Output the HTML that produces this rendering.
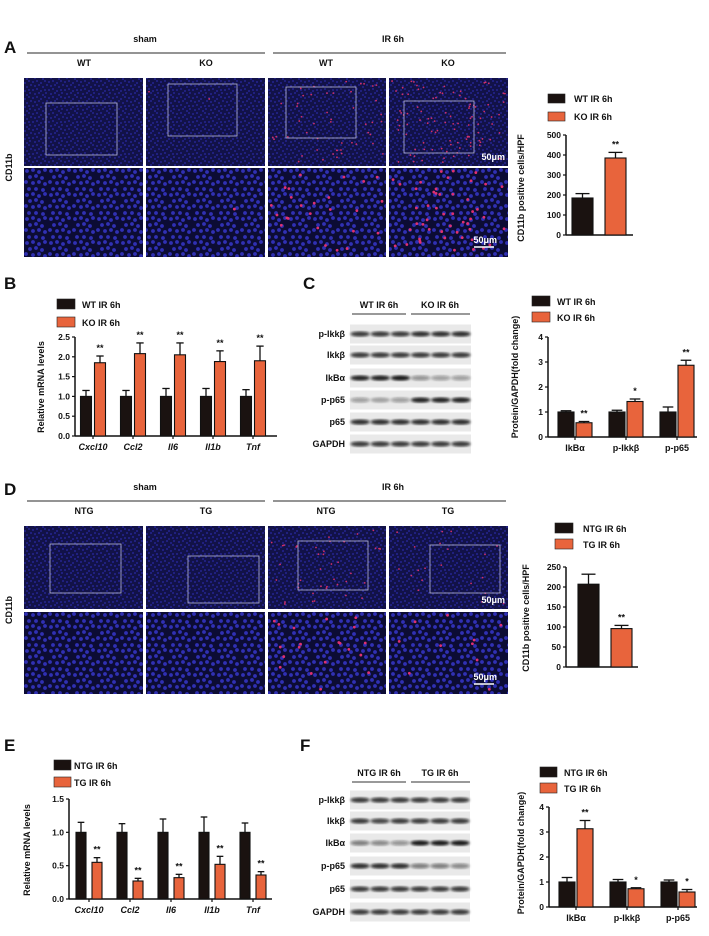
<!DOCTYPE html>
<html><head><meta charset="utf-8"><style>
html,body{margin:0;padding:0;background:#fff;}
svg{display:block;font-family:"Liberation Sans",sans-serif;}
text{font-weight:bold;fill:#111;}
</style></head><body>
<svg id="fig" width="709" height="936" viewBox="0 0 709 936" xmlns="http://www.w3.org/2000/svg">
<defs>
<pattern id="pTop" width="16" height="16" patternUnits="userSpaceOnUse">
<rect width="16" height="16" fill="#121248"/>
<g fill="#2a2aa4"><circle cx="1" cy="2" r="0.9"/><circle cx="5" cy="1" r="0.9"/><circle cx="9" cy="3" r="0.9"/><circle cx="13" cy="1" r="0.9"/><circle cx="3" cy="6" r="0.9"/><circle cx="7" cy="5" r="0.9"/><circle cx="11" cy="7" r="0.9"/><circle cx="15" cy="5" r="0.9"/><circle cx="1" cy="10" r="0.9"/><circle cx="5" cy="9" r="0.9"/><circle cx="9" cy="11" r="0.9"/><circle cx="13" cy="10" r="0.9"/><circle cx="3" cy="14" r="0.9"/><circle cx="7" cy="13" r="0.9"/><circle cx="11" cy="15" r="0.9"/><circle cx="14" cy="13" r="0.9"/></g>
</pattern>
<pattern id="pBot" width="24" height="24" patternUnits="userSpaceOnUse">
<rect width="24" height="24" fill="#0c0c34"/>
<g fill="#3030b4"><circle cx="3" cy="3" r="1.9"/><circle cx="9" cy="2" r="1.9"/><circle cx="15" cy="4" r="1.9"/><circle cx="21" cy="2" r="1.9"/><circle cx="6" cy="9" r="1.9"/><circle cx="12" cy="8" r="1.9"/><circle cx="18" cy="10" r="1.9"/><circle cx="2" cy="14" r="1.9"/><circle cx="9" cy="15" r="1.9"/><circle cx="15" cy="14" r="1.9"/><circle cx="21" cy="16" r="1.9"/><circle cx="5" cy="21" r="1.9"/><circle cx="12" cy="21" r="1.9"/><circle cx="19" cy="22" r="1.9"/></g>
</pattern>
<filter id="blur"><feGaussianBlur stdDeviation="1.2"/></filter>
</defs>
<g id="root"></g>
</svg>
<script>
// ---- chart data ----
var aCats = ["WT IR 6h","KO IR 6h"];
var aVals = [185, 385];
var aErrs = [22, 28];
var aTicks = [0,100,200,300,400,500];

var bCats = ["Cxcl10","Ccl2","Il6","Il1b","Tnf"];
var bWT = [1.0,1.0,1.0,1.0,1.0];
var bWTerr = [0.15,0.15,0.2,0.2,0.17];
var bKO = [1.85,2.08,2.05,1.88,1.9];
var bKOerr = [0.17,0.27,0.3,0.27,0.37];
var bStars = ["**","**","**","**","**"];
var bTicks = [0,0.5,1.0,1.5,2.0,2.5];

var cCats = ["IkBα","p-Ikkβ","p-p65"];
var cWT = [1.0,1.0,1.0];
var cWTerr = [0.05,0.07,0.2];
var cKO = [0.57,1.42,2.87];
var cKOerr = [0.05,0.1,0.2];
var cStars = ["**","*","**"];
var cTicks = [0,1,2,3,4];

var dCats = ["NTG IR 6h","TG IR 6h"];
var dVals = [207, 96];
var dErrs = [25, 8];
var dTicks = [0,50,100,150,200,250];

var eCats = ["Cxcl10","Ccl2","Il6","Il1b","Tnf"];
var eNTG = [1.0,1.0,1.0,1.0,1.0];
var eNTGerr = [0.15,0.13,0.2,0.23,0.14];
var eTG = [0.55,0.27,0.32,0.52,0.36];
var eTGerr = [0.07,0.04,0.05,0.12,0.05];
var eStars = ["**","**","**","**","**"];
var eTicks = [0,0.5,1.0,1.5];

var fCats = ["IkBα","p-Ikkβ","p-p65"];
var fNTG = [1.0,1.0,1.0];
var fNTGerr = [0.18,0.1,0.08];
var fTG = [3.13,0.73,0.6];
var fTGerr = [0.33,0.04,0.1];
var fStars = ["**","*","*"];
var fTicks = [0,1,2,3,4];

var NS="http://www.w3.org/2000/svg";
var root=document.getElementById('root');
var ORANGE="#e8643c", DARK="#1a1210";
function mk(tag,attrs,parent){var e=document.createElementNS(NS,tag);for(var k in attrs)e.setAttribute(k,attrs[k]);(parent||root).appendChild(e);return e;}
function txt(x,y,s,size,anchor,parent,extra){var e=mk('text',{x:x,y:y,'font-size':size,'text-anchor':anchor||'start'},parent);if(extra)for(var k in extra)e.setAttribute(k,extra[k]);e.textContent=s;return e;}
var t;

// ---- panel labels ----
[["A",4,53],["B",4,289],["C",303,289],["D",4,495],["E",4,751],["F",300,751]].forEach(function(p){
  t=txt(p[1],p[2],p[0],17,'start');
  
  
});

// ---- microscopy panels ----
var colX=[24,146,268,389], colW=[119,119,118,119];
var rng=1;function rnd(){rng=(rng*16807)%2147483647;return rng/2147483647;}
function micro(prefix,topY,topH,botY,botH,groups,cols,insets,redCounts){
  var g=mk('g',{});
  
  
  t=txt(145,topY-36,'sham',9,'middle',g);
  
  
  t=txt(393,topY-36,'IR 6h',9,'middle',g);
  
  
  var l1=mk('line',{x1:27,x2:265,y1:topY-25,y2:topY-25,stroke:'#555','stroke-width':1.2},g);
  
  
  var l2=mk('line',{x1:273,x2:506,y1:topY-25,y2:topY-25,stroke:'#555','stroke-width':1.2},g);
  
  
  var cx=[84,206,326,448];
  for(var i=0;i<4;i++){
    t=txt(cx[i],topY-12,cols[i],9,'middle',g);
    
    
    var r1=mk('rect',{x:colX[i],y:topY,width:colW[i],height:topH,fill:'url(#pTop)'},g);
    
    
    var r2=mk('rect',{x:colX[i],y:botY,width:colW[i],height:botH,fill:'url(#pBot)'},g);
    
    
    for(var k=0;k<redCounts[i];k++){
      var c1=mk('circle',{cx:colX[i]+3+rnd()*(colW[i]-6),cy:topY+3+rnd()*(topH-6),r:0.9,fill:'#d0306a'},g);
      
      
      if(k%2==0){
      var c2=mk('circle',{cx:colX[i]+3+rnd()*(colW[i]-6),cy:botY+3+rnd()*(botH-6),r:1.4,fill:'#e03070'},g);
      
      
      }
    }
    var ins=insets[i];
    var r3=mk('rect',{x:ins[0],y:ins[1],width:ins[2],height:ins[3],fill:'none',stroke:'#b8b8d8','stroke-width':0.8},g);
    
    
  }
  t=txt(12,(topY+botY+botH)/2,'CD11b',9,'middle',g,{transform:'rotate(-90 12 '+((topY+botY+botH)/2)+')'});
  
  
  t=txt(505,topY+topH-6,'50μm',9,'end',g,{style:'fill:#fff'});
  
  
  t=txt(497,botY+botH-14,'50μm',9,'end',g,{style:'fill:#fff'});
  
  
  var sb=mk('line',{x1:474,x2:494,y1:botY+botH-10,y2:botY+botH-10,stroke:'#fff','stroke-width':1.5},g);
  
  
}
micro('a',78,88,168,89,null,['WT','KO','WT','KO'],[[46,103,71,52],[168,84,69,52],[286,87,70,51],[404,101,70,52]],[0,2,50,100]);
micro('d',526,83,612,82,null,['NTG','TG','NTG','TG'],[[50,544,71,49],[188,556,71,47],[298,541,70,49],[430,545,70,48]],[0,0,40,20]);

// ---- legend helper ----
function legend(prefix,x,y1,y2,labels,bw,bh,tx){
  [[y1,DARK],[y2,ORANGE]].forEach(function(p,i){
    var r=mk('rect',{x:x,y:p[0],width:bw,height:bh,fill:p[1],stroke:'#222','stroke-width':0.6});
    
    
    t=txt(tx,p[0]+bh-1,labels[i],9,'start');
    
    
  });
}

// ---- generic bar chart ----
function chart(o){
  var g=mk('g',{});
  
  
  function yS(v){return o.y0-(v-o.ticks[0])*o.ppu;}
  var top=yS(o.ticks[o.ticks.length-1]);
  var ax=mk('line',{x1:o.ax,x2:o.ax,y1:top,y2:o.y0,stroke:'#111','stroke-width':1.5},g);
  
  
  var xa=mk('line',{x1:o.ax,x2:o.axEnd,y1:o.y0,y2:o.y0,stroke:'#111','stroke-width':1.5},g);
  
  
  o.ticks.forEach(function(v){
    var tk=mk('line',{x1:o.ax-3,x2:o.ax,y1:yS(v),y2:yS(v),stroke:'#111','stroke-width':1.2},g);
    
    
    t=txt(o.ax-5,yS(v)+3,o.fmt(v),8.5,'end',g);
    
    
  });
  t=txt(o.ylx,o.yly,o.ylabel,9,'middle',g,{transform:'rotate(-90 '+o.ylx+' '+o.yly+')'});
  
  
  o.series.forEach(function(s,si){
    s.vals.forEach(function(v,ci){
      var cx=o.c0+ci*o.step+s.off;
      var x=cx-o.bw/2;
      var eb=mk('line',{x1:cx,x2:cx,y1:yS(v),y2:yS(v+s.errs[ci]),stroke:'#111','stroke-width':1.3},g);
      
      
      var cp=mk('line',{x1:cx-o.bw/3,x2:cx+o.bw/3,y1:yS(v+s.errs[ci]),y2:yS(v+s.errs[ci]),stroke:'#111','stroke-width':1.3},g);
      
      
      var b=mk('rect',{x:x,y:yS(v),width:o.bw,height:o.y0-yS(v),fill:s.color,stroke:'#111','stroke-width':1.1},g);
      
      
      if(s.stars&&s.stars[ci]){
        t=txt(cx,yS(v+s.errs[ci])-5,s.stars[ci],9,'middle',g);
        
        
      }
    });
  });
  if(o.cats){
    o.cats.forEach(function(c,ci){
      var cx=o.c0+ci*o.step;
      var tk=mk('line',{x1:cx,x2:cx,y1:o.y0,y2:o.y0+3,stroke:'#111','stroke-width':1.2},g);
      
      
      t=txt(cx,o.y0+14,c,9,'middle',g,o.italic?{'font-style':'italic'}:null);
      
      
    });
  }
}
function f1(v){return v.toFixed(1);}
function f0(v){return String(v);}

legend('a',548,94,112,aCats,17,9,574);
chart({prefix:'a',ax:566,axEnd:633,y0:235,ppu:100/500,ticks:aTicks,fmt:f0,ylabel:'CD11b positive cells/HPF',ylx:524,yly:188,
  c0:582.5,step:33,bw:21,cats:null,series:[{name:'wt',vals:[aVals[0]],errs:[aErrs[0]],color:DARK,off:0},{name:'ko',vals:[aVals[1]],errs:[aErrs[1]],color:ORANGE,off:33,stars:['**']}]});
legend('b',57,299,317,["WT IR 6h","KO IR 6h"],18,10,82);
chart({prefix:'b',ax:75,axEnd:277,y0:436,ppu:99/2.5,ticks:bTicks,fmt:f1,ylabel:'Relative mRNA levels',ylx:44,yly:387,
  c0:93,step:40,bw:11,cats:bCats,italic:true,series:[{name:'wt',vals:bWT,errs:bWTerr,color:DARK,off:-7},{name:'ko',vals:bKO,errs:bKOerr,color:ORANGE,off:7,stars:bStars}]});
legend('c',532,296,312,["WT IR 6h","KO IR 6h"],18,10,557);
chart({prefix:'c',ax:548,axEnd:697,y0:437,ppu:100/4,ticks:cTicks,fmt:f0,ylabel:'Protein/GAPDH(fold change)',ylx:518,yly:377,
  c0:575,step:51,bw:16,cats:cCats,series:[{name:'wt',vals:cWT,errs:cWTerr,color:DARK,off:-9},{name:'ko',vals:cKO,errs:cKOerr,color:ORANGE,off:9,stars:cStars}]});
legend('d',555,523,539,dCats,18,10,583);
chart({prefix:'d',ax:566,axEnd:638,y0:667,ppu:100/250,ticks:dTicks,fmt:f0,ylabel:'CD11b positive cells/HPF',ylx:529,yly:618,
  c0:588.5,step:33,bw:21,cats:null,series:[{name:'ntg',vals:[dVals[0]],errs:[dErrs[0]],color:DARK,off:0},{name:'tg',vals:[dVals[1]],errs:[dErrs[1]],color:ORANGE,off:33,stars:['**']}]});
legend('e',54,760,777,["NTG IR 6h","TG IR 6h"],17,10,74);
chart({prefix:'e',ax:69,axEnd:272,y0:899,ppu:100/1.5,ticks:eTicks,fmt:f1,ylabel:'Relative mRNA levels',ylx:30,yly:850,
  c0:89,step:41,bw:10,cats:eCats,italic:true,series:[{name:'ntg',vals:eNTG,errs:eNTGerr,color:DARK,off:-8},{name:'tg',vals:eTG,errs:eTGerr,color:ORANGE,off:8,stars:eStars}]});
legend('f',540,767,783,["NTG IR 6h","TG IR 6h"],17,10,564);
chart({prefix:'f',ax:549,axEnd:697,y0:907,ppu:100/4,ticks:fTicks,fmt:f0,ylabel:'Protein/GAPDH(fold change)',ylx:524,yly:853,
  c0:576,step:51,bw:16,cats:fCats,series:[{name:'ntg',vals:fNTG,errs:fNTGerr,color:DARK,off:-9},{name:'tg',vals:fTG,errs:fTGerr,color:ORANGE,off:9,stars:fStars}]});

// ---- western blots ----
var blotRows=["p-Ikkβ","Ikkβ","IkBα","p-p65","p65","GAPDH"];
var cBand=[[.8,.8,.8,.85,.85,.85],[.8,.8,.8,.8,.8,.8],[.9,.9,.95,.4,.35,.35],[.35,.3,.35,.9,.9,.9],[.85,.85,.85,.85,.85,.85],[.8,.8,.8,.8,.8,.8]];
var fBand=[[.8,.8,.8,.8,.8,.8],[.8,.75,.8,.8,.8,.8],[.5,.45,.4,.95,.95,.95],[.85,.85,.85,.5,.5,.45],[.8,.8,.8,.8,.8,.8],[.8,.8,.8,.8,.8,.8]];
function blot(prefix,x0,x1,hy,centers,bands,groups){
  var g=mk('g',{});
  
  
  t=txt(379,hy,groups[0],9,'middle',g);
  
  
  t=txt(440,hy,groups[1],9,'middle',g);
  
  
  var l=mk('line',{x1:352,x2:406,y1:hy+6,y2:hy+6,stroke:'#333','stroke-width':1},g);
  
  
  l=mk('line',{x1:411,x2:470,y1:hy+6,y2:hy+6,stroke:'#333','stroke-width':1},g);
  
  
  var lw=(x1-x0)/6;
  centers.forEach(function(cy,ri){
    var r=mk('rect',{x:x0,y:cy-9.5,width:x1-x0,height:19,fill:'#e9e9e9'},g);
    
    
    t=txt(x0-5,cy+3,blotRows[ri],9,'end',g);
    
    
    bands[ri].forEach(function(a,li){
      var e=mk('ellipse',{cx:x0+lw*(li+.5),cy:cy,rx:lw*.48,ry:2.6,fill:'#111','fill-opacity':a,filter:'url(#blur)'},g);
      
      
    });
  });
}
blot('c',350,471,308,[334,355,378,400,422,444],cBand,["WT IR 6h","KO IR 6h"]);
blot('f',350,470,776,[800,821,843,866,889,912],fBand,["NTG IR 6h","TG IR 6h"]);
</script>
</body></html>
